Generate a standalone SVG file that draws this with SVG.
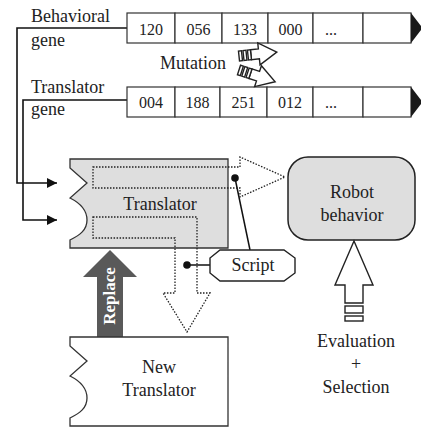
<svg xmlns="http://www.w3.org/2000/svg" width="422" height="428" viewBox="0 0 422 428" font-family="'Liberation Serif', 'Times New Roman', 'DejaVu Serif', 'Noto Serif', serif">
<defs>
<style>
.t{font-size:18px;fill:#222}
.n{font-size:16px;fill:#222;text-anchor:middle}
.c{text-anchor:middle}
.cell{fill:#fff;stroke:#333;stroke-width:1.2}
.conn{fill:none;stroke:#111;stroke-width:1.6}
.dot{fill:none;stroke:#222;stroke-width:1.3;stroke-dasharray:1.5 1.5}
.box{stroke:#333;stroke-width:1.3}
.ol{fill:#fff;stroke:#222;stroke-width:1.4}
</style>
<marker id="ah" viewBox="0 0 10 10" refX="10" refY="5" markerWidth="10" markerHeight="10" markerUnits="userSpaceOnUse" orient="auto">
<path d="M0,0 L10,5 L0,10 Z" fill="#111"/>
</marker>
<g id="mut-arrow">
<path d="M12,-5 L20,-5 L20,-11 L38,0 L20,11 L20,5 L12,5 Z" class="ol" stroke-width="1.1"/>
<rect x="0" y="-5" width="3" height="10" class="ol" stroke-width="1"/>
<rect x="4.5" y="-5" width="3" height="10" class="ol" stroke-width="1"/>
<rect x="9" y="-5" width="3" height="10" class="ol" stroke-width="1"/>
</g>
</defs>
<rect width="422" height="428" fill="#fff"/>

<g id="connectors">
<path class="conn" d="M127,28 L17,28 L17,183 L57,183" marker-end="url(#ah)"/>
<path class="conn" d="M127,100 L23,100 L23,220 L57,220" marker-end="url(#ah)"/>
<line x1="235" y1="178" x2="250" y2="250" stroke="#111" stroke-width="1.5"/>
<circle cx="235" cy="178" r="3.8" fill="#111"/>
<line x1="187" y1="265" x2="210" y2="265" stroke="#111" stroke-width="1.5"/>
<circle cx="187" cy="265" r="3.8" fill="#111"/>
</g>

<g id="behavioral-gene">
<rect class="cell" x="127" y="13" width="48" height="30"/>
<rect class="cell" x="175" y="13" width="47" height="30"/>
<rect class="cell" x="222" y="13" width="46" height="30"/>
<rect class="cell" x="268" y="13" width="45" height="30"/>
<rect class="cell" x="313" y="13" width="50" height="30"/>
<rect class="cell" x="363" y="13" width="48" height="30"/>
<polygon points="411,13 421,26 421,30 411,43" fill="#1a1a1a"/>
<text class="n" x="151" y="35">120</text>
<text class="n" x="198.5" y="35">056</text>
<text class="n" x="245" y="35">133</text>
<text class="n" x="290.5" y="35">000</text>
<text class="n" x="331" y="35">...</text>
<text class="t" x="31" y="22">Behavioral</text>
<text class="t" x="31" y="46">gene</text>
</g>

<g id="translator-gene">
<rect class="cell" x="127" y="87" width="48" height="30"/>
<rect class="cell" x="175" y="87" width="45" height="30"/>
<rect class="cell" x="220" y="87" width="47" height="30"/>
<rect class="cell" x="267" y="87" width="46" height="30"/>
<rect class="cell" x="313" y="87" width="50" height="30"/>
<rect class="cell" x="363" y="87" width="48" height="30"/>
<polygon points="411,87 421,100 421,104 411,117" fill="#1a1a1a"/>
<text class="n" x="151" y="108">004</text>
<text class="n" x="197.5" y="108">188</text>
<text class="n" x="243.5" y="108">251</text>
<text class="n" x="290" y="108">012</text>
<text class="n" x="331" y="108">...</text>
<text class="t" x="31" y="93">Translator</text>
<text class="t" x="31" y="115">gene</text>
</g>

<g id="mutation">
<text class="t" x="160" y="69">Mutation</text>
<use href="#mut-arrow" transform="translate(239,56) rotate(-6)"/>
<use href="#mut-arrow" transform="translate(239,70) rotate(18)"/>
</g>

<g id="translator">
<path class="box" fill="#dedede" d="M70,159 L228,159 L228,248 L70,248 L70,240 C80,235 87,230 87,220 C87,210 80,203 70,198 L87,183 L70,168 Z"/>
<path class="dot" d="M93,167 L240,167 L240,157 L285,177 L240,197 L240,188 L93,188 Z"/>
<path class="dot" d="M93,217 L197,217 L197,293 L210,293 L187,332 L163,293 L175,293 L175,238 L93,238 Z"/>
<text class="t c" x="160" y="210">Translator</text>
</g>

<g id="script">
<polygon class="ol" points="220,250 284,250 295,258 295,273 284,281 220,281 210,273 210,258" stroke-width="1.2"/>
<text class="t c" x="253" y="271">Script</text>
</g>

<g id="robot-behavior">
<rect x="288" y="157" width="127" height="83" rx="20" ry="20" fill="#dedede" stroke="#222" stroke-width="1.5"/>
<text class="t c" x="352" y="198">Robot</text>
<text class="t c" x="352" y="221">behavior</text>
</g>

<g id="evaluation">
<polygon class="ol" points="354,241 373,285 363,285 363,303 345,303 345,285 335,285"/>
<rect class="ol" x="345" y="306" width="18" height="7"/>
<rect class="ol" x="345" y="316" width="18" height="5"/>
<text class="t c" x="356" y="347">Evaluation</text>
<text class="t c" x="356" y="370">+</text>
<text class="t c" x="356" y="393">Selection</text>
</g>

<g id="replace">
<polygon points="110,250 137,277 123,277 123,337 97,337 97,277 83,277" fill="#595959"/>
<text transform="translate(115,296) rotate(-90)" text-anchor="middle" font-size="17" font-weight="bold" fill="#fff">Replace</text>
</g>

<g id="new-translator">
<path class="box" fill="#fff" d="M70,337 L228,337 L228,426 L70,426 L70,418 C80,413 87,408 87,398 C87,388 80,381 70,376 L87,361 L70,346 Z"/>
<text class="t c" x="159" y="373">New</text>
<text class="t c" x="159" y="396">Translator</text>
</g>
</svg>
